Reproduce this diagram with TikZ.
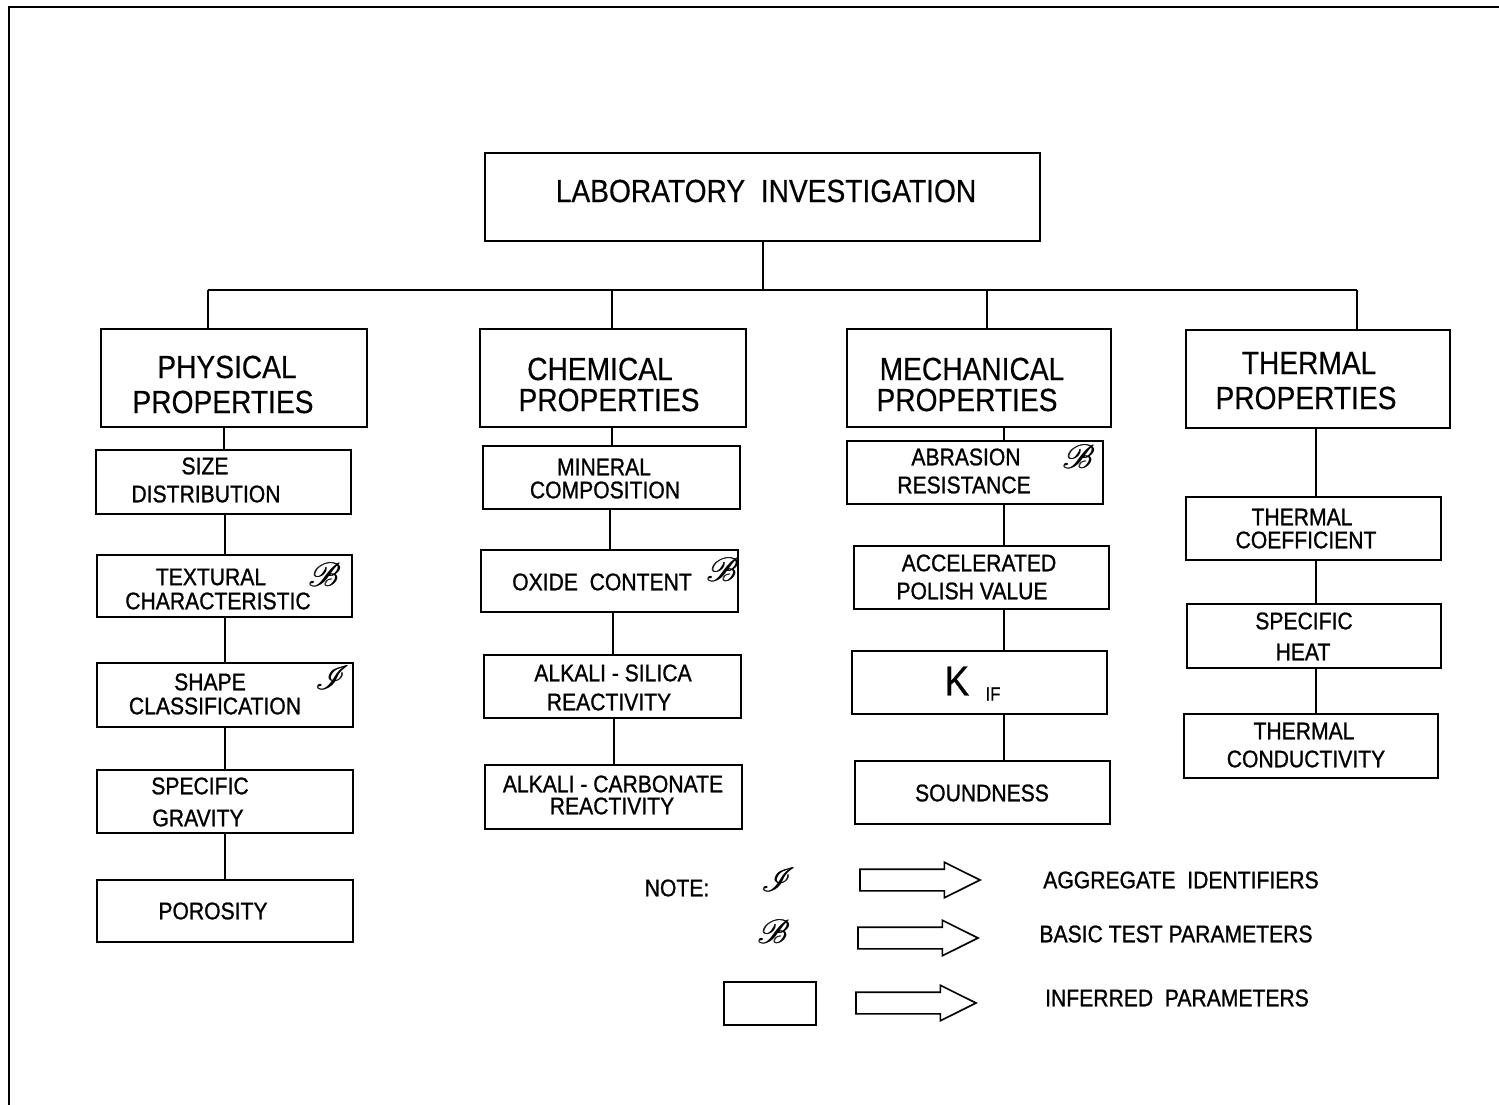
\documentclass[tikz,border=0pt]{standalone}
\usepackage{fontspec}
\usepackage{mathrsfs}
\setmainfont[FakeStretch=0.88]{Liberation Sans}
\newfontfamily\headfont[FakeStretch=0.88,FakeBold=0.4]{Liberation Sans}
\newfontfamily\itemfont[FakeStretch=0.88,FakeBold=1.0]{Liberation Sans}
\usetikzlibrary{shapes.arrows}

% a framed box given by its corner coordinates (x1,y1) and (x2,y2)
\newcommand\pbox[5]{%
  \node[box, minimum width={#4-#2}, minimum height={#5-#3}] (#1)
    at ({(#2+#4)/2},{(#3+#5)/2}) {};}
% an enlarged, slightly heavier script capital, struck twice with a small offset
\newcommand\heavyscr[1]{\scalebox{1.35}{\rlap{#1}\kern0.6pt#1}}

\tikzset{
  box/.style={draw, line width=2.2pt, inner sep=0pt, outer sep=0pt},
  link/.style={line width=2pt},
  big/.style={font=\headfont\fontsize{32}{36}\selectfont, inner sep=0pt},
  small/.style={font=\itemfont\fontsize{24}{28}\selectfont, inner sep=0pt},
  scr/.style={font=\fontsize{24.88}{28}\usefont{U}{rsfs}{m}{n}, inner sep=0pt},
  keyarrow/.style={single arrow, draw, line width=1.6pt, minimum height=120pt,
    minimum width=34pt, inner sep=10pt, single arrow head extend=7pt,
    single arrow tip angle=53, outer sep=0pt, anchor=tail},
}

\begin{document}
\begin{tikzpicture}[x=1pt, y=-1pt]
\useasboundingbox (0,0) rectangle (1499,1105);

% page frame
\draw[line width=2.8pt] (9,1105) -- (9,7) -- (1499,7);

% top box
\pbox{lab}{485}{153}{1040}{241}
\node[big] (labt) at (766,191) {LABORATORY\ \ INVESTIGATION};

% property groups
\pbox{phys}{101}{329}{367}{427}
\pbox{chem}{480}{329}{746}{427}
\pbox{mech}{847}{329}{1111}{427}
\pbox{therm}{1186}{330}{1450}{428}
\node[big] (physa) at (227,367) {PHYSICAL};
\node[big] (physb) at (223,402) {PROPERTIES};
\node[big] (chema) at (600,369) {CHEMICAL};
\node[big] (chemb) at (609,400) {PROPERTIES};
\node[big] (mecha) at (972,369) {MECHANICAL};
\node[big] (mechb) at (967,400) {PROPERTIES};
\node[big] (therma) at (1309,363) {THERMAL};
\node[big] (thermb) at (1306,398) {PROPERTIES};

% distribution bus
\coordinate (busy) at (0,290);
\coordinate (dP) at (208,290);
\coordinate (dC) at (612,290);
\coordinate (dM) at (987,290);
\coordinate (dT) at (1357,290);
\draw[link] (lab.south) -- (lab.south |- busy);
\draw[link] (dP) -- (dT);
\draw[link] (dP) -- (dP |- phys.north);
\draw[link] (dC) -- (dC |- chem.north);
\draw[link] (dM) -- (dM |- mech.north);
\draw[link] (dT) -- (dT |- therm.north);

% physical column
\pbox{size}{96}{450}{351}{514}
\pbox{text}{97}{555}{352}{617}
\pbox{shape}{97}{663}{353}{727}
\pbox{sgrav}{97}{770}{353}{833}
\pbox{poro}{97}{880}{353}{942}
\node[small] (sizea) at (205,466) {SIZE};
\node[small] (sizeb) at (206,494) {DISTRIBUTION};
\node[small] (texta) at (211,577) {TEXTURAL};
\node[small] (textb) at (218,601) {CHARACTERISTIC};
\node[scr] (textm) at (324,575) {\heavyscr{B}};
\node[small] (shapea) at (210,682) {SHAPE};
\node[small] (shapeb) at (215,706) {CLASSIFICATION};
\node[scr] (shapem) at (329,678) {\heavyscr{I}};
\node[small] (sgrava) at (200,786) {SPECIFIC};
\node[small] (sgravb) at (198,818) {GRAVITY};
\node[small] (poroa) at (213,911) {POROSITY};
\draw[link] (size.north) -- (size.north |- phys.south);
\draw[link] (text.north) -- (text.north |- size.south);
\draw[link] (shape.north) -- (shape.north |- text.south);
\draw[link] (sgrav.north) -- (sgrav.north |- shape.south);
\draw[link] (poro.north) -- (poro.north |- sgrav.south);

% chemical column
\pbox{mineral}{483}{446}{740}{509}
\pbox{oxide}{481}{550}{738}{612}
\pbox{asr}{484}{655}{741}{718}
\pbox{acr}{485}{765}{742}{829}
\node[small] (minerala) at (604,467) {MINERAL};
\node[small] (mineralb) at (605,490) {COMPOSITION};
\node[small] (oxidea) at (602,582) {OXIDE\ \ CONTENT};
\node[scr] (oxidem) at (722,570) {\heavyscr{B}};
\node[small] (asra) at (613,673) {ALKALI - SILICA};
\node[small] (asrb) at (609,702) {REACTIVITY};
\node[small] (acra) at (613,784) {ALKALI - CARBONATE};
\node[small] (acrb) at (612,806) {REACTIVITY};
\draw[link] (mineral.north) -- (mineral.north |- chem.south);
\draw[link] (oxide.north) -- (oxide.north |- mineral.south);
\draw[link] (asr.north) -- (asr.north |- oxide.south);
\draw[link] (acr.north) -- (acr.north |- asr.south);

% mechanical column
\pbox{abr}{847}{441}{1103}{504}
\pbox{apv}{854}{546}{1109}{609}
\pbox{kif}{852}{651}{1107}{714}
\pbox{sound}{855}{761}{1110}{824}
\node[small] (abra) at (966,457) {ABRASION};
\node[small] (abrb) at (964,485) {RESISTANCE};
\node[scr] (abrm) at (1078,457) {\heavyscr{B}};
\node[small] (apva) at (979,563) {ACCELERATED};
\node[small] (apvb) at (972,591) {POLISH VALUE};
\node[font=\headfont\fontsize{42}{46}\selectfont, inner sep=0pt] (kifa) at (957,681) {K};
\node[font=\itemfont\fontsize{19}{22}\selectfont, inner sep=0pt] (kifb) at (993,694) {IF};
\node[small] (sounda) at (982,793) {SOUNDNESS};
\coordinate (mx) at (1004,0);
\draw[link] (mech.south -| mx) -- (abr.north -| mx);
\draw[link] (abr.south -| mx) -- (apv.north -| mx);
\draw[link] (apv.south -| mx) -- (kif.north -| mx);
\draw[link] (kif.south -| mx) -- (sound.north -| mx);

% thermal column
\pbox{tcoef}{1186}{497}{1441}{560}
\pbox{sheat}{1187}{604}{1441}{668}
\pbox{tcond}{1184}{714}{1438}{778}
\node[small] (tcoefa) at (1302,517) {THERMAL};
\node[small] (tcoefb) at (1306,540) {COEFFICIENT};
\node[small] (sheata) at (1304,621) {SPECIFIC};
\node[small] (sheatb) at (1303,652) {HEAT};
\node[small] (tconda) at (1304,731) {THERMAL};
\node[small] (tcondb) at (1306,759) {CONDUCTIVITY};
\coordinate (tx) at (1316,0);
\draw[link] (therm.south -| tx) -- (tcoef.north -| tx);
\draw[link] (tcoef.south -| tx) -- (sheat.north -| tx);
\draw[link] (sheat.south -| tx) -- (tcond.north -| tx);

% key
\node[small] (note) at (677,888) {NOTE:};
\node[scr] (keyi) at (775,880) {\heavyscr{I}};
\node[scr] (keyb) at (773,932) {\heavyscr{B}};
\pbox{keybox}{724}{982}{816}{1025}
\node[keyarrow] (arri) at (860,880) {};
\node[keyarrow] (arrb) at (858,938) {};
\node[keyarrow] (arrx) at (856,1003) {};
\node[small] (keyia) at (1181,880) {AGGREGATE\ \ IDENTIFIERS};
\node[small] (keyba) at (1176,934) {BASIC TEST PARAMETERS};
\node[small] (keyxa) at (1177,998) {INFERRED\ \ PARAMETERS};
\end{tikzpicture}
\end{document}
